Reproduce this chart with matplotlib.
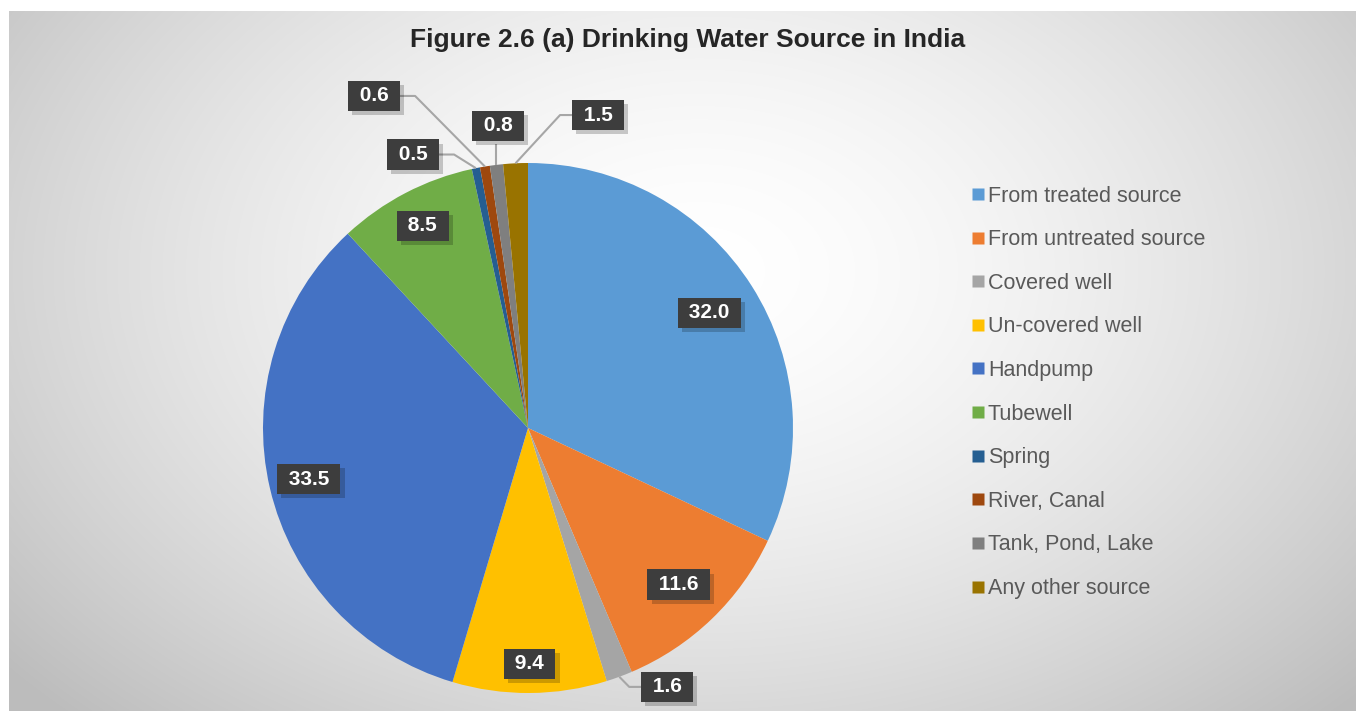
import matplotlib.pyplot as plt
import matplotlib.patheffects as pe
from matplotlib.lines import Line2D
import numpy as np

plt.rcParams['font.family'] = ['Liberation Sans', 'DejaVu Sans']

# data
sources = ['From treated source', 'From untreated source', 'Covered well',
           'Un-covered well', 'Handpump', 'Tubewell', 'Spring', 'River, Canal',
           'Tank, Pond, Lake', 'Any other source']
shares = [32.0, 11.6, 1.6, 9.4, 33.5, 8.5, 0.5, 0.6, 0.8, 1.5]
colors = ['#5B9BD5', '#ED7D31', '#A5A5A5', '#FFC000', '#4472C4', '#70AD47',
          '#255E91', '#9E480E', '#7F7F7F', '#997300']

W, H = 1356, 711
fig = plt.figure(figsize=(W / 100, H / 100), dpi=100)
fig.patch.set_facecolor('white')

# radial gradient background of the chart area
bg = fig.add_axes([9 / W, 0, 1 - 9 / W, 1 - 11 / H])
yy, xx = np.mgrid[0:700, 0:1347]
d = np.hypot((xx - 690) / 900.0, (yy - 260) / 620.0)
shade = 1 - 0.26 * np.clip(d, 0, 1) ** 1.6
bg.imshow(np.dstack([shade] * 3), aspect='auto', extent=(0, 1, 0, 1))
bg.axis('off')

# pie axes: centre (528, 428) px, radius 265 px
R = 265
lim = 1.35
side = 2 * lim * R
ax = fig.add_axes([(528 - side / 2) / W, (H - 428 - side / 2) / H, side / W, side / H])
wedges, _ = ax.pie(shares, colors=colors, startangle=90, counterclock=False,
                   radius=1, wedgeprops=dict(linewidth=0))
ax.set_xlim(-lim, lim)
ax.set_ylim(-lim, lim)
ax.set_aspect('equal')
ax.axis('off')

# label placement: inside -> radius factor; outside -> (box centre, elbow side)
inside_r = {0: 0.81, 1: 0.82, 3: 0.89, 4: 0.85, 5: 0.86}
outside = {2: (0.525, -0.977, 'left'),
           6: (-0.434, 1.032, 'right'),
           7: (-0.581, 1.253, 'right'),
           8: (-0.113, 1.140, 'below'),
           9: (0.264, 1.181, 'left')}

box_half = 0.098
shadow = [pe.SimplePatchShadow(offset=(3, -3), shadow_rgbFace='k', alpha=0.2), pe.Normal()]

for i, (w, v) in enumerate(zip(wedges, shares)):
    mid = np.deg2rad((w.theta1 + w.theta2) / 2)
    if i in inside_r:
        r = inside_r[i]
        tx, ty = r * np.cos(mid), r * np.sin(mid)
    else:
        tx, ty, side_ = outside[i]
        px, py = np.cos(mid), np.sin(mid)
        if side_ == 'below':
            pts = [(px, py), (px, ty - 0.068)]
        elif side_ == 'right':
            ex = tx + box_half
            pts = [(px, py), (ex + 0.057, ty), (ex, ty)]
        else:
            ex = tx - box_half
            pts = [(px, py), (ex - 0.045, ty), (ex, ty)]
        xs, ys = zip(*pts)
        ax.plot(xs, ys, color='#a6a6a6', lw=1.5, solid_capstyle='butt', zorder=3)
    t = ax.text(tx, ty, f' {v:.1f} ', ha='center', va='center', fontsize=15,
                fontweight='bold', color='white', zorder=5,
                bbox=dict(boxstyle='square,pad=0.27', fc='#3d3d3d', ec='none'))
    t.get_bbox_patch().set_path_effects(shadow)

fig.text(688 / W, 1 - 40 / H, 'Figure 2.6 (a) Drinking Water Source in India',
         ha='center', va='center', fontsize=19, fontweight='bold', color='#262626')

handles = [Line2D([], [], marker='s', ls='none', markersize=8, markerfacecolor=c,
                  markeredgecolor='none') for c in colors]
leg = fig.legend(handles, sources, loc='upper left', bbox_to_anchor=(962 / W, 1 - 177 / H),
                 frameon=False, fontsize=15.5, labelspacing=1.05, handlelength=0.65,
                 handletextpad=0.15, borderaxespad=0)
for txt in leg.get_texts():
    txt.set_color('#595959')

fig.savefig('out.png', dpi=100)
